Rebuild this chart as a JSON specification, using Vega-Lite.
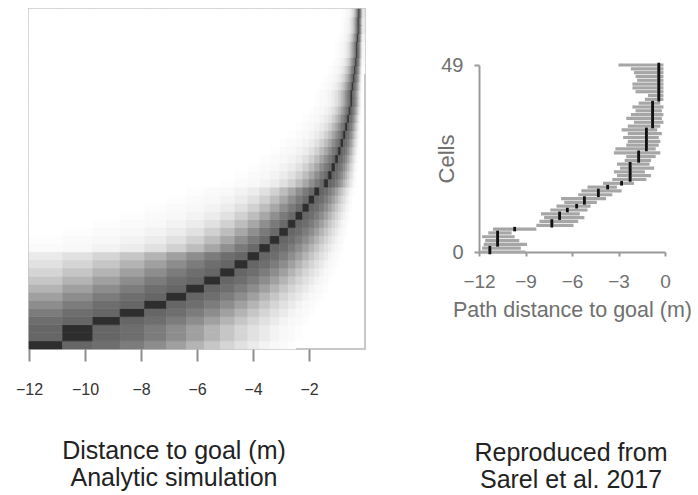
{
  "$schema": "https://vega.github.io/schema/vega-lite/v6.json",
  "padding": {"left": 14, "top": 7, "right": 0, "bottom": 0},
  "config": {"view": {"stroke": null}, "font": "Liberation Sans", "axis": {"grid": false, "labelFlush": false}},
  "datasets": {
    "bins": [
      {"k":1,"x0":-12,"x1":-10.8},{"k":2,"x0":-10.8,"x1":-9.72},{"k":3,"x0":-9.72,"x1":-8.748},{"k":4,"x0":-8.748,"x1":-7.873},
      {"k":5,"x0":-7.873,"x1":-7.086},{"k":6,"x0":-7.086,"x1":-6.377},{"k":7,"x0":-6.377,"x1":-5.74},{"k":8,"x0":-5.74,"x1":-5.166},
      {"k":9,"x0":-5.166,"x1":-4.649},{"k":10,"x0":-4.649,"x1":-4.184},{"k":11,"x0":-4.184,"x1":-3.766},{"k":12,"x0":-3.766,"x1":-3.389},
      {"k":13,"x0":-3.389,"x1":-3.05},{"k":14,"x0":-3.05,"x1":-2.745},{"k":15,"x0":-2.745,"x1":-2.471},{"k":16,"x0":-2.471,"x1":-2.224},
      {"k":17,"x0":-2.224,"x1":-2.001},{"k":18,"x0":-2.001,"x1":-1.801},{"k":19,"x0":-1.801,"x1":-1.621},{"k":20,"x0":-1.621,"x1":-1.459},
      {"k":21,"x0":-1.459,"x1":-1.313},{"k":22,"x0":-1.313,"x1":-1.182},{"k":23,"x0":-1.182,"x1":-1.064},{"k":24,"x0":-1.064,"x1":-0.957},
      {"k":25,"x0":-0.957,"x1":-0.862},{"k":26,"x0":-0.862,"x1":-0.775},{"k":27,"x0":-0.775,"x1":-0.698},{"k":28,"x0":-0.698,"x1":-0.628},
      {"k":29,"x0":-0.628,"x1":-0.565},{"k":30,"x0":-0.565,"x1":-0.509},{"k":31,"x0":-0.509,"x1":-0.458},{"k":32,"x0":-0.458,"x1":-0.412},
      {"k":33,"x0":-0.412,"x1":-0.371},{"k":34,"x0":-0.371,"x1":-0.334},{"k":35,"x0":-0.334,"x1":-0.3},{"k":36,"x0":-0.3,"x1":-0.27},
      {"k":37,"x0":-0.27,"x1":-0.243},{"k":38,"x0":-0.243,"x1":-0.219},{"k":39,"x0":-0.219,"x1":-0.197},{"k":40,"x0":-0.197,"x1":-0.177},
      {"k":41,"x0":-0.177,"x1":-0.16},{"k":42,"x0":-0.16,"x1":-0.144},{"k":43,"x0":-0.144,"x1":-0.129},{"k":44,"x0":-0.129,"x1":-0.116},
      {"k":45,"x0":-0.116,"x1":-0.105},{"k":46,"x0":-0.105,"x1":-0.094},{"k":47,"x0":-0.094,"x1":-0.085},{"k":48,"x0":-0.085,"x1":0}
    ],
    "heat": [
      {"r":0,"v":[100,70,66,59,51,42,33,25,18,13,9,5,3,2,1]},
      {"r":1,"v":[70,100,70,66,59,51,42,33,25,18,13,9,5,3,2,1]},
      {"r":2,"v":[70,100,70,66,59,51,42,33,25,18,13,9,5,3,2,1]},
      {"r":3,"v":[66,70,100,70,66,59,51,42,33,25,18,13,9,5,3,2,1]},
      {"r":4,"v":[59,66,70,100,70,66,59,51,42,33,25,18,13,9,5,3,2,1]},
      {"r":5,"v":[51,59,66,70,100,70,66,59,51,42,33,25,18,13,9,5,3,2,1]},
      {"r":6,"v":[42,51,59,66,70,100,70,66,59,51,42,33,25,18,13,9,5,3,2,1]},
      {"r":7,"v":[33,42,51,59,66,70,100,70,66,59,51,42,33,25,18,13,9,5,3,2,1]},
      {"r":8,"v":[25,33,42,51,59,66,70,100,70,66,59,51,42,33,25,18,13,9,5,3,2,1]},
      {"r":9,"v":[18,25,33,42,51,59,66,70,100,70,66,59,51,42,33,25,18,13,9,5,3,2,1]},
      {"r":10,"v":[13,18,25,33,42,51,59,66,70,100,70,66,59,51,42,33,25,18,13,9,5,3,2,1]},
      {"r":11,"v":[9,13,18,25,33,42,51,59,66,70,100,70,66,59,51,42,33,25,18,13,9,5,3,2,1]},
      {"r":12,"v":[2,3,5,8,13,20,29,39,50,60,68,100,70,66,59,51,42,33,25,18,13,9,5,3,2,1]},
      {"r":13,"v":[1,2,3,5,8,13,20,29,39,50,60,68,100,70,66,59,51,42,33,25,18,13,9,5,3,2,1]},
      {"r":14,"v":[0,1,2,3,5,8,13,20,29,39,50,60,68,100,70,66,59,51,42,33,25,18,13,9,5,3,2,1]},
      {"r":15,"v":[0,0,1,2,3,5,8,13,20,29,39,50,60,68,100,70,66,59,51,42,33,25,18,13,9,5,3,2,1]},
      {"r":16,"v":[0,0,0,1,2,3,5,8,13,20,29,39,50,60,68,100,70,66,59,51,42,33,25,18,13,9,5,3,2,1]},
      {"r":17,"v":[0,0,0,0,1,2,3,5,8,13,20,29,39,50,60,68,100,70,66,59,51,42,33,25,18,13,9,5,3,2,1]},
      {"r":18,"v":[0,0,0,0,0,1,2,3,5,8,13,20,29,39,50,60,68,100,70,66,59,51,42,33,25,18,13,9,5,3,2,1]},
      {"r":19,"v":[0,0,0,0,0,0,1,2,3,5,8,13,20,29,39,50,60,68,100,70,66,59,51,42,33,25,18,13,9,5,3,2,1]},
      {"r":20,"v":[0,0,0,0,0,0,0,0,1,2,3,5,8,13,20,29,39,50,60,68,100,70,66,59,51,42,33,25,18,13,9,5,3,2,1]},
      {"r":21,"v":[0,0,0,0,0,0,0,0,0,1,2,3,5,8,13,20,29,39,50,60,68,100,70,66,59,51,42,33,25,18,13,9,5,3,2,1]},
      {"r":22,"v":[0,0,0,0,0,0,0,0,0,0,1,2,3,5,8,13,20,29,39,50,60,68,100,70,66,59,51,42,33,25,18,13,9,5,3,2,1]},
      {"r":23,"v":[0,0,0,0,0,0,0,0,0,0,0,1,2,3,5,8,13,20,29,39,50,60,68,100,70,66,59,51,42,33,25,18,13,9,5,3,2,1]},
      {"r":24,"v":[0,0,0,0,0,0,0,0,0,0,0,0,1,2,3,5,8,13,20,29,39,50,60,68,100,70,66,59,51,42,33,25,18,13,9,5,3,2,1]},
      {"r":25,"v":[0,0,0,0,0,0,0,0,0,0,0,0,0,1,2,3,5,8,13,20,29,39,50,60,68,100,70,66,59,51,42,33,25,18,13,9,5,3,2,1]},
      {"r":26,"v":[0,0,0,0,0,0,0,0,0,0,0,0,0,0,1,2,3,5,8,13,20,29,39,50,60,68,100,70,66,59,51,42,33,25,18,13,9,5,3,2,1]},
      {"r":27,"v":[0,0,0,0,0,0,0,0,0,0,0,0,0,0,0,1,2,3,5,8,13,20,29,39,50,60,68,100,70,66,59,51,42,33,25,18,13,9,5,3,2,1]},
      {"r":28,"v":[0,0,0,0,0,0,0,0,0,0,0,0,0,0,0,0,1,2,3,5,8,13,20,29,39,50,60,68,100,70,66,59,51,42,33,25,18,13,9,5,3,2,1]},
      {"r":29,"v":[0,0,0,0,0,0,0,0,0,0,0,0,0,0,0,0,0,1,2,3,5,8,13,20,29,39,50,60,68,100,70,66,59,51,42,33,25,18,13,9,5,3,2,1]},
      {"r":30,"v":[0,0,0,0,0,0,0,0,0,0,0,0,0,0,0,0,0,0,1,2,3,5,8,13,20,29,39,50,60,68,100,70,66,59,51,42,33,25,18,13,9,5,3,2,1]},
      {"r":31,"v":[0,0,0,0,0,0,0,0,0,0,0,0,0,0,0,0,0,0,1,2,3,5,8,13,20,29,39,50,60,68,100,70,66,59,51,42,33,25,18,13,9,5,3,2,1]},
      {"r":32,"v":[0,0,0,0,0,0,0,0,0,0,0,0,0,0,0,0,0,0,0,1,2,3,5,8,13,20,29,39,50,60,68,100,70,66,59,51,42,33,25,18,13,9,5,3,2,1]},
      {"r":33,"v":[0,0,0,0,0,0,0,0,0,0,0,0,0,0,0,0,0,0,0,0,1,2,3,5,8,13,20,29,39,50,60,68,100,70,66,59,51,42,33,25,18,13,9,5,3,2,1]},
      {"r":34,"v":[0,0,0,0,0,0,0,0,0,0,0,0,0,0,0,0,0,0,0,0,0,1,2,3,5,8,13,20,29,39,50,60,68,100,70,66,59,51,42,33,25,18,13,9,5,3,2,1]},
      {"r":35,"v":[0,0,0,0,0,0,0,0,0,0,0,0,0,0,0,0,0,0,0,0,0,0,1,2,3,5,8,13,20,29,39,50,60,68,100,70,66,59,51,42,33,25,18,13,9,5,3,2,1]},
      {"r":36,"v":[0,0,0,0,0,0,0,0,0,0,0,0,0,0,0,0,0,0,0,0,0,0,0,1,2,3,5,8,13,20,29,39,50,60,68,100,70,66,59,51,42,33,25,18,13,9,5,3,2,1]},
      {"r":37,"v":[0,0,0,0,0,0,0,0,0,0,0,0,0,0,0,0,0,0,0,0,0,0,0,1,2,3,5,8,13,20,29,39,50,60,68,100,70,66,59,51,42,33,25,18,13,9,5,3,2,1]},
      {"r":38,"v":[0,0,0,0,0,0,0,0,0,0,0,0,0,0,0,0,0,0,0,0,0,0,0,0,1,2,3,5,8,13,20,29,39,50,60,68,100,70,66,59,51,42,33,25,18,13,9,5,3,2,1]},
      {"r":39,"v":[0,0,0,0,0,0,0,0,0,0,0,0,0,0,0,0,0,0,0,0,0,0,0,0,0,1,2,3,5,8,13,20,29,39,50,60,68,100,70,66,59,51,42,33,25,18,13,9,5,3,2,1]},
      {"r":40,"v":[0,0,0,0,0,0,0,0,0,0,0,0,0,0,0,0,0,0,0,0,0,0,0,0,0,1,2,3,5,8,13,20,29,39,50,60,68,100,70,66,59,51,42,33,25,18,13,9,5,3,2,1]},
      {"r":41,"v":[0,0,0,0,0,0,0,0,0,0,0,0,0,0,0,0,0,0,0,0,0,0,0,0,0,0,1,2,3,5,8,13,20,29,39,50,60,68,100,70,66,59,51,42,33,25,18,13,9,5,3,2,1]}
    ],
    "cells": [
      {"cell":0,"peak":-11.3,"lo":-11.9,"hi":-9.0},{"cell":1,"peak":-11.3,"lo":-11.8,"hi":-9.3},
      {"cell":2,"peak":-10.8,"lo":-11.7,"hi":-8.9},{"cell":3,"peak":-10.8,"lo":-11.6,"hi":-9.4},
      {"cell":4,"peak":-10.8,"lo":-11.8,"hi":-9.7},{"cell":5,"peak":-10.8,"lo":-11.4,"hi":-9.9},
      {"cell":6,"peak":-9.7,"lo":-11.1,"hi":-8.3},{"cell":7,"peak":-7.3,"lo":-8.3,"hi":-5.9},
      {"cell":8,"peak":-7.3,"lo":-8.1,"hi":-5.6},{"cell":9,"peak":-6.8,"lo":-7.8,"hi":-5.2},
      {"cell":10,"peak":-6.8,"lo":-8.0,"hi":-5.5},{"cell":11,"peak":-6.3,"lo":-7.4,"hi":-5.0},
      {"cell":12,"peak":-5.7,"lo":-7.0,"hi":-4.8},{"cell":13,"peak":-5.2,"lo":-6.5,"hi":-4.4},
      {"cell":14,"peak":-5.2,"lo":-6.7,"hi":-3.8},{"cell":15,"peak":-4.3,"lo":-5.6,"hi":-3.4},
      {"cell":16,"peak":-4.3,"lo":-5.4,"hi":-2.8},{"cell":17,"peak":-3.7,"lo":-5.0,"hi":-3.1},
      {"cell":18,"peak":-2.8,"lo":-4.0,"hi":-2.0},{"cell":19,"peak":-2.25,"lo":-3.4,"hi":-1.2},
      {"cell":20,"peak":-2.25,"lo":-3.1,"hi":-0.9},{"cell":21,"peak":-2.25,"lo":-3.3,"hi":-1.3},
      {"cell":22,"peak":-2.25,"lo":-2.9,"hi":-0.7},{"cell":23,"peak":-2.25,"lo":-3.1,"hi":-1.0},
      {"cell":24,"peak":-1.7,"lo":-2.6,"hi":-0.9},{"cell":25,"peak":-1.7,"lo":-2.5,"hi":-0.6},
      {"cell":26,"peak":-1.7,"lo":-3.3,"hi":-0.3},{"cell":27,"peak":-1.2,"lo":-3.2,"hi":-0.6},
      {"cell":28,"peak":-1.2,"lo":-2.5,"hi":-0.4},{"cell":29,"peak":-1.2,"lo":-2.4,"hi":-0.3},
      {"cell":30,"peak":-1.2,"lo":-2.7,"hi":-0.4},{"cell":31,"peak":-1.2,"lo":-2.4,"hi":-0.2},
      {"cell":32,"peak":-1.2,"lo":-2.8,"hi":-0.5},{"cell":33,"peak":-0.8,"lo":-2.4,"hi":-0.3},
      {"cell":34,"peak":-0.8,"lo":-2.0,"hi":-0.1},{"cell":35,"peak":-0.8,"lo":-2.5,"hi":-0.2},
      {"cell":36,"peak":-0.8,"lo":-2.2,"hi":-0.1},{"cell":37,"peak":-0.8,"lo":-1.9,"hi":-0.2},
      {"cell":38,"peak":-0.8,"lo":-2.1,"hi":-0.1},{"cell":39,"peak":-0.8,"lo":-1.7,"hi":-0.3},
      {"cell":40,"peak":-0.4,"lo":-1.3,"hi":-0.1},{"cell":41,"peak":-0.4,"lo":-1.1,"hi":-0.1},
      {"cell":42,"peak":-0.4,"lo":-1.9,"hi":-0.1},{"cell":43,"peak":-0.4,"lo":-2.1,"hi":-0.1},
      {"cell":44,"peak":-0.4,"lo":-2.1,"hi":-0.1},{"cell":45,"peak":-0.4,"lo":-1.8,"hi":-0.1},
      {"cell":46,"peak":-0.4,"lo":-1.9,"hi":-0.1},{"cell":47,"peak":-0.4,"lo":-2.0,"hi":-0.1},
      {"cell":48,"peak":-0.4,"lo":-2.2,"hi":-0.1},{"cell":49,"peak":-0.4,"lo":-3.0,"hi":-0.1}
    ]
  },
  "hconcat": [
    {
      "width": 336,
      "height": 340,
      "view": {"stroke": "#c8c8c8", "strokeWidth": 2},
      "title": {"text": ["Distance to goal (m)", "Analytic simulation"], "orient": "bottom", "anchor": "middle", "offset": 42, "dx": -23, "fontSize": 25, "fontWeight": "normal", "color": "#222222", "lineHeight": 27},
      "data": {"name": "heat"},
      "transform": [
        {"flatten": ["v"]},
        {"window": [{"op": "row_number", "as": "k"}], "groupby": ["r"]},
        {"lookup": "k", "from": {"data": {"name": "bins"}, "key": "k", "fields": ["x0", "x1"]}},
        {"filter": {"field": "x0", "valid": true}}
      ],
      "mark": {"type": "rect", "strokeWidth": 0.6},
      "encoding": {
        "x": {"field": "x0", "type": "quantitative", "scale": {"domain": [-12, 0], "nice": false, "zero": false},
              "axis": {"values": [-12, -10, -8, -6, -4, -2], "title": null, "domain": false, "tickColor": "#8c8c8c", "tickWidth": 2, "tickSize": 12, "labelFontSize": 16, "labelColor": "#333333", "labelPadding": 20}},
        "x2": {"field": "x1"},
        "y": {"field": "r", "type": "ordinal", "sort": "descending", "axis": null, "scale": {"paddingInner": 0, "paddingOuter": 0}},
        "fill": {"field": "v", "type": "quantitative", "scale": {"domain": [0, 100], "range": ["#ffffff", "#2e2e2e"]}, "legend": null},
        "stroke": {"field": "v", "type": "quantitative", "scale": {"domain": [0, 100], "range": ["#ffffff", "#2e2e2e"]}, "legend": null}
      }
    },
    {
      "spacing": 0,
      "vconcat": [
        {
          "width": 186,
          "height": 46,
          "data": {"values": []},
          "mark": "point",
          "encoding": {}
        },
        {
          "width": 186,
          "height": 187,
          "title": {"text": ["Reproduced from", "Sarel et al. 2017"], "orient": "bottom", "anchor": "middle", "offset": 120, "dx": -1, "fontSize": 25, "fontWeight": "normal", "color": "#222222", "lineHeight": 27},
          "data": {"name": "cells"},
          "encoding": {
            "y": {"field": "cell", "type": "quantitative", "scale": {"domain": [0, 49], "nice": false, "zero": false},
                  "axis": {"values": [0, 49], "title": "Cells", "titleX": -21, "titleFontSize": 22, "titleFontWeight": "normal", "titleColor": "#707070", "labelFontSize": 20, "labelColor": "#707070", "labelPadding": 11, "tickSize": 5, "tickColor": "#9a9a9a", "tickWidth": 2, "domainColor": "#9a9a9a", "domainWidth": 2}}
          },
          "layer": [
            {
              "mark": {"type": "rule", "strokeWidth": 3.2, "color": "#a6a6a6"},
              "encoding": {
                "x": {"field": "lo", "type": "quantitative", "scale": {"domain": [-12, 0], "nice": false, "zero": false},
                      "axis": {"values": [-12, -9, -6, -3, 0], "title": "Path distance to goal (m)", "titleFontSize": 21.5, "titleFontWeight": "normal", "titleColor": "#707070", "titlePadding": 8, "labelFontSize": 19, "labelColor": "#707070", "labelPadding": 16, "tickSize": 4, "tickColor": "#9a9a9a", "tickWidth": 2, "domainColor": "#9a9a9a", "domainWidth": 2}},
                "x2": {"field": "hi"}
              }
            },
            {
              "mark": {"type": "tick", "orient": "vertical", "size": 4.5, "thickness": 2.8, "color": "#111111", "opacity": 1},
              "encoding": {
                "x": {"field": "peak", "type": "quantitative"}
              }
            }
          ]
        }
      ]
    }
  ],
  "spacing": 68
}
